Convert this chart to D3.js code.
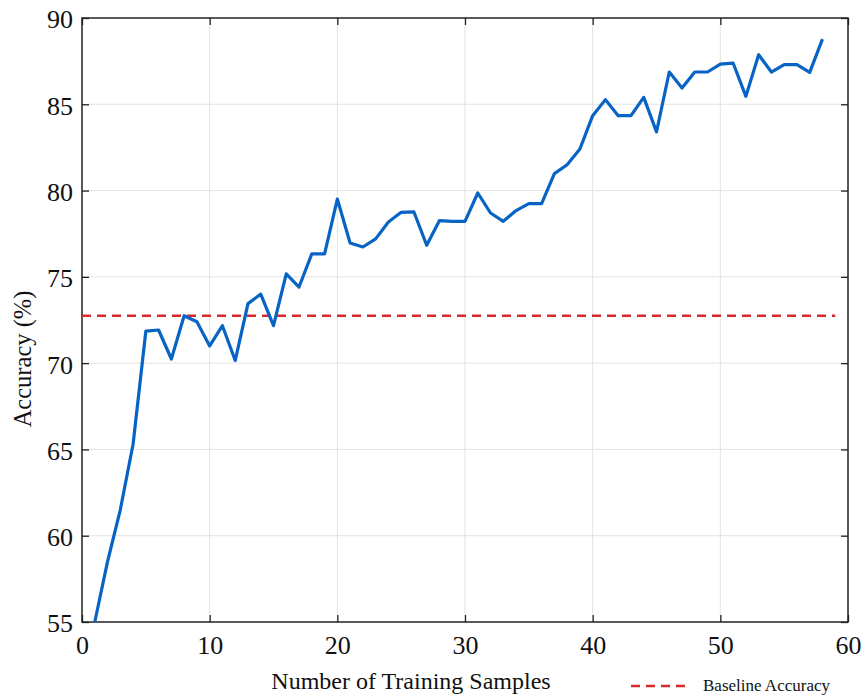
<!DOCTYPE html>
<html>
<head>
<meta charset="utf-8">
<script src="https://cdn.jsdelivr.net/npm/d3@7"></script>
<style>
  body { margin: 0; background: #fff; }
  svg { display: block; }
  svg text { font-family: "Liberation Serif", "Times New Roman", serif; }
</style>
</head>
<body>
<div id="chart"></div>
<script>
// training samples 1..58
const samples = d3.range(1, 59);
const accuracy = [
  55.0, 58.5, 61.5, 65.3, 71.85, 71.92, 70.24, 72.75, 72.4, 71.0,
  72.17, 70.15, 73.45, 74.0, 72.17, 75.17, 74.41, 76.33, 76.33, 79.51,
  76.96, 76.73, 77.2, 78.18, 78.74, 78.76, 76.83, 78.26, 78.22, 78.22,
  79.86, 78.7, 78.22, 78.84, 79.24, 79.24, 80.98, 81.5, 82.41, 84.34,
  85.27, 84.34, 84.34, 85.4, 83.4, 86.87, 85.94, 86.87, 86.87, 87.33,
  87.39, 85.46, 87.87, 86.87, 87.3, 87.3, 86.85, 88.78
];
const baselineValue = 72.75;
const baselineRange = [0, 59];
const xTicks = [0, 10, 20, 30, 40, 50, 60];
const yTicks = [55, 60, 65, 70, 75, 80, 85, 90];

const width = 862;
const height = 696;
const marginLeft = 82;
const marginRight = 14;
const marginTop = 18;
const marginBottom = 74;
const serif = '"Liberation Serif", "Times New Roman", serif';

const svg = d3.select("#chart").append("svg")
  .attr("width", width)
  .attr("height", height)
  .attr("viewBox", [0, 0, width, height]);

const x = d3.scaleLinear()
  .domain([0, 60])
  .range([marginLeft, width - marginRight]);

const y = d3.scaleLinear()
  .domain([55, 90])
  .range([height - marginBottom, marginTop]);

const plotW = width - marginLeft - marginRight;
const plotH = height - marginTop - marginBottom;

// grid lines
svg.append("g")
  .attr("stroke", "#e3e3e3")
  .attr("stroke-width", 1)
  .call(g => g.selectAll("line.gx").data(xTicks.slice(1, -1)).join("line")
    .attr("class", "gx")
    .attr("x1", d => x(d)).attr("x2", d => x(d))
    .attr("y1", marginTop).attr("y2", height - marginBottom))
  .call(g => g.selectAll("line.gy").data(yTicks.slice(1, -1)).join("line")
    .attr("class", "gy")
    .attr("x1", marginLeft).attr("x2", width - marginRight)
    .attr("y1", d => y(d)).attr("y2", d => y(d)));

// axes with inward ticks on all four sides
const tickLen = 7;
svg.append("g")
  .attr("transform", `translate(0,${height - marginBottom})`)
  .call(d3.axisBottom(x).tickValues(xTicks).tickSize(-tickLen).tickSizeOuter(0))
  .attr("font-family", serif)
  .call(g => g.select(".domain").remove())
  .call(g => g.selectAll(".tick text")
    .style("font-family", serif)
    .attr("font-size", 26).attr("fill", "#111")
    .attr("dy", null).attr("y", 32));

svg.append("g")
  .attr("transform", `translate(0,${marginTop})`)
  .call(d3.axisTop(x).tickValues(xTicks).tickSize(-tickLen).tickFormat("").tickSizeOuter(0))
  .call(g => g.select(".domain").remove());

svg.append("g")
  .attr("transform", `translate(${marginLeft},0)`)
  .call(d3.axisLeft(y).tickValues(yTicks).tickSize(-tickLen).tickPadding(9).tickSizeOuter(0))
  .attr("font-family", serif)
  .call(g => g.select(".domain").remove())
  .call(g => g.selectAll(".tick text")
    .style("font-family", serif)
    .attr("font-size", 26).attr("fill", "#111").attr("dy", "0.38em"));

svg.append("g")
  .attr("transform", `translate(${width - marginRight},0)`)
  .call(d3.axisRight(y).tickValues(yTicks).tickSize(-tickLen).tickFormat("").tickSizeOuter(0))
  .call(g => g.select(".domain").remove());

svg.selectAll(".tick line").attr("stroke", "#222").attr("stroke-width", 1.3);

// frame
svg.append("rect")
  .attr("x", marginLeft).attr("y", marginTop)
  .attr("width", plotW).attr("height", plotH)
  .attr("fill", "none").attr("stroke", "#222").attr("stroke-width", 1.5);

// baseline
svg.append("line")
  .attr("x1", x(baselineRange[0])).attr("x2", x(baselineRange[1]))
  .attr("y1", y(baselineValue)).attr("y2", y(baselineValue))
  .attr("stroke", "#d42a2a").attr("stroke-width", 2.6)
  .attr("stroke-dasharray", "9,6");

// accuracy line
const line = d3.line()
  .x((d, i) => x(samples[i]))
  .y(d => y(d));

svg.append("path")
  .datum(accuracy)
  .attr("fill", "none")
  .attr("stroke", "#0864c4")
  .attr("stroke-width", 3.2)
  .attr("stroke-linejoin", "round")
  .attr("d", line);

// axis titles
svg.append("text")
  .attr("x", 411)
  .attr("y", 689)
  .attr("text-anchor", "middle")
  .attr("font-size", 24)
  .attr("fill", "#111")
  .text("Number of Training Samples");

svg.append("text")
  .attr("transform", "translate(31,359) rotate(-90)")
  .attr("text-anchor", "middle")
  .attr("font-size", 24.5)
  .attr("fill", "#111")
  .text("Accuracy (%)");

// legend
svg.append("line")
  .attr("x1", 631).attr("x2", 689)
  .attr("y1", 686).attr("y2", 686)
  .attr("stroke", "#d42a2a").attr("stroke-width", 2.6)
  .attr("stroke-dasharray", "9,6");

svg.append("text")
  .attr("x", 703).attr("y", 691)
  .attr("font-size", 17)
  .attr("fill", "#111")
  .text("Baseline Accuracy");
</script>
</body>
</html>
